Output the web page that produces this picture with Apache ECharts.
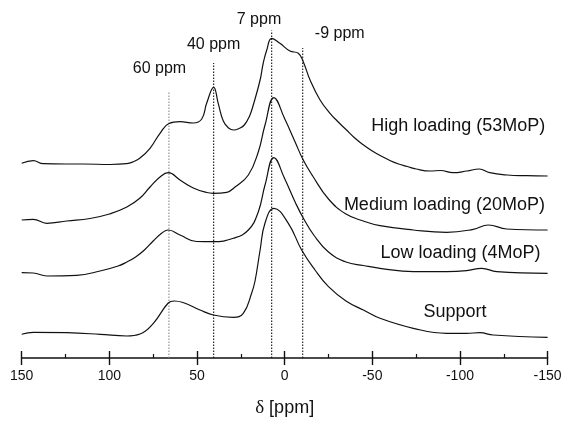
<!DOCTYPE html>
<html>
<head>
<meta charset="utf-8">
<script src="https://cdn.jsdelivr.net/npm/echarts@6/dist/echarts.min.js"></script>
<style>
  html, body { margin: 0; padding: 0; background: #fff; }
  #main { width: 565px; height: 423px; }
</style>
</head>
<body>
<div id="main"></div>
<script>
// stacked spectra: [ppm, intensity (a.u., offset included)]
var high = [[150,194.7],[143.4,197.3],[137.7,194.3],[125,194],[114.9,194],[99.6,193.5],[90.1,194.3],[86.3,196.3],[82.5,200],[76.8,209.7],[71.1,224.7],[66,234.5],[59.7,236.3],[52.1,235],[47.3,239],[44.5,254.7],[40.5,270.7],[37.9,254.7],[35,237],[32,230],[29,228],[26,229.5],[23,233],[20,242],[17.9,253],[14,278],[12.2,295],[10.2,308],[7.4,319.7],[2.7,314.7],[-3,307],[-7.8,304.7],[-10.6,296.3],[-14.5,278],[-20.2,258],[-25.9,244.7],[-30,237],[-35,228.5],[-40,220],[-45,213],[-50,207],[-55,202],[-60,197.5],[-65,194],[-70,191.5],[-75,189],[-83,187],[-89,187.5],[-96,185.3],[-104,187],[-111,189],[-117,185.3],[-127,183],[-138,182.3],[-150,182]];
var medium = [[150,138],[143.4,138.7],[135.7,134.7],[124.3,137],[111,139.5],[100,144],[90,151],[82.5,160],[76.8,171],[71.1,181],[66.4,185.3],[59.7,178],[52.1,170],[44.5,165.5],[40.7,164.7],[33,165.7],[28.3,171],[20.7,183],[15,206.3],[11.2,233],[6.1,260.3],[0.1,239.7],[-5.9,216.3],[-10.6,198],[-16,182],[-25,159],[-35,144],[-44.9,137],[-54.4,132.3],[-73.4,128],[-92.4,125.7],[-107.6,128.7],[-116.2,133],[-126.7,129],[-150,128]];
var low = [[150,85.3],[143.4,85],[135.7,82],[118.6,82.7],[105.3,87],[95,92],[90,96],[85,101],[80,108],[75,117],[70,125],[66.4,128],[59.7,123],[50.2,116.5],[40.7,116.3],[29.3,119.7],[20.7,128],[15,146.3],[11.2,173],[6.1,200.3],[0.1,179.7],[-5.9,156.3],[-10.6,140],[-17,122],[-25,106],[-35,96],[-45,92.5],[-54.4,89.7],[-73.4,86.3],[-92.4,86.3],[-103.8,87.3],[-112.4,89.7],[-121,86.3],[-150,84.7]];
var support = [[150,23.7],[143.4,25.7],[124.3,25.3],[105.3,23.7],[90.1,22],[82.5,24],[74.9,34.7],[66.4,55],[63,57],[58,55.5],[48.3,48],[40.7,43],[29.3,40.7],[23.6,44.7],[18.8,65],[16.9,77],[14,108],[11.2,135],[6.1,149.7],[-2.1,134.7],[-9.7,108],[-17.3,88],[-25,71.3],[-35,57],[-44.9,48],[-54.4,39.7],[-73.4,29.7],[-92.4,24.7],[-103.8,24.7],[-111.4,25.3],[-119,23],[-150,20.7]];
var spectra = [high, medium, low, support];
var spectraNames = ['High loading (53MoP)', 'Medium loading (20MoP)', 'Low loading (4MoP)', 'Support'];

// dotted guide lines
var markerPpm = [66, 40.5, 7.4, -10.3];
var markerTop = [266.5, 295, 327.5, 310];
var markerText = ['60 ppm', '40 ppm', '7 ppm', '-9 ppm'];

var font = 'Arial, "Liberation Sans", sans-serif';
var chart = echarts.init(document.getElementById('main'));

var series = [];
spectra.forEach(function (d, i) {
  series.push({
    name: spectraNames[i],
    type: 'line',
    xAxisIndex: 0,
    data: d,
    symbol: 'none',
    smooth: 0.45,
    lineStyle: { color: '#111', width: 1.2 },
    silent: true,
    z: 3
  });
});
markerPpm.forEach(function (p, i) {
  series.push({
    type: 'line',
    xAxisIndex: 0,
    data: [[p, 0], [p, markerTop[i]]],
    symbol: 'none',
    lineStyle: { color: i === 0 ? '#8a8a8a' : '#111', width: 1.1, type: [1.5, 1.5] },
    silent: true,
    z: 2
  });
});

var xBase = {
  type: 'value',
  min: -150,
  max: 150,
  interval: 50,
  inverse: true,
  position: 'bottom',
  splitLine: { show: false }
};

chart.setOption({
  animation: false,
  backgroundColor: '#fff',
  grid: { left: 21.7, right: 17.4, top: 0, bottom: 65, containLabel: false },
  xAxis: [
    echarts.util.merge({
      name: '{d|δ} [ppm]',
      nameLocation: 'middle',
      nameGap: 41,
      nameTextStyle: {
        fontFamily: font, fontSize: 18, color: '#111',
        rich: { d: { fontFamily: '"Liberation Serif", "DejaVu Serif", serif', fontSize: 19, color: '#111' } }
      },
      axisLine: { show: true, onZero: false, lineStyle: { color: '#111', width: 1.6 } },
      axisTick: { show: true, inside: false, length: 7, lineStyle: { color: '#111', width: 1.4 } },
      axisLabel: { fontFamily: font, fontSize: 14, color: '#111', margin: 11 }
    }, xBase, true),
    echarts.util.merge({
      axisLine: { show: false },
      axisTick: { show: true, inside: true, length: 7, lineStyle: { color: '#111', width: 1.4 } },
      minorTick: { show: true, splitNumber: 2, length: 4, lineStyle: { color: '#111', width: 1.2 } },
      axisLabel: { show: false }
    }, xBase, true)
  ],
  yAxis: { type: 'value', min: 0, max: 358, show: false },
  series: series
});

// text placed relative to the data coordinates
function px(p, v) {
  return chart.convertToPixel({ xAxisIndex: 0, yAxisIndex: 0 }, [p, v]);
}
var graphics = [];
var markerShift = [[-9.5, -23], [0, -18], [-12.7, -10.7], [37, -14]];
markerPpm.forEach(function (p, i) {
  var pt = px(p, markerTop[i]);
  graphics.push({
    type: 'text',
    x: pt[0] + markerShift[i][0],
    y: pt[1] + markerShift[i][1],
    style: { text: markerText[i], font: '16px ' + font, fill: '#111', align: 'center', verticalAlign: 'middle' }
  });
});
var nameAnchor = [[-148.7, 232, 'right'], [-148.5, 153, 'right'], [-146, 104.7, 'right'], [-97.2, 45.7, 'center']];
nameAnchor.forEach(function (a, i) {
  var pt = px(a[0], a[1]);
  graphics.push({
    type: 'text',
    x: pt[0],
    y: pt[1],
    style: { text: spectraNames[i], font: '18px ' + font, fill: '#111', align: a[2], verticalAlign: 'middle' }
  });
});
chart.setOption({ graphic: graphics });
</script>
</body>
</html>
